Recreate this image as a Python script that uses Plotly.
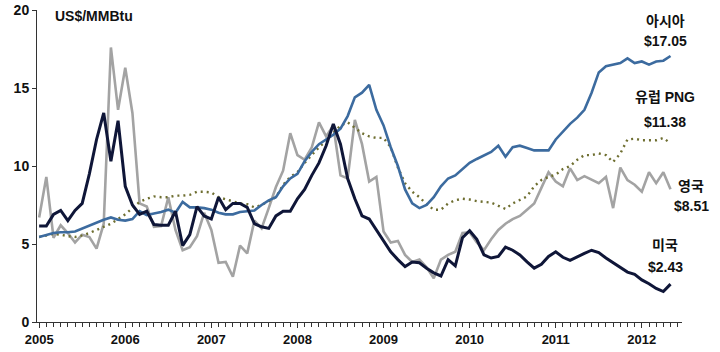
import plotly.graph_objects as go

years = ["2005", "2006", "2007", "2008", "2009", "2010", "2011", "2012"]
months = list(range(89))  # Jan 2005 .. May 2012, monthly

asia = [5.45, 5.6, 5.7, 5.75, 5.75, 5.8, 6.0, 6.2, 6.4, 6.55, 6.7, 6.55,
        6.5, 6.6, 7.1, 6.85, 6.95, 7.05, 7.2, 7.0, 7.7, 7.35, 7.35, 7.3,
        7.2, 7.0, 6.9, 6.9, 7.05, 7.1, 7.15, 7.5, 7.8, 8.0, 8.7, 9.2,
        9.5, 10.3, 10.9, 11.4, 11.7, 12.0, 12.4, 13.2, 14.4, 14.7, 15.2, 13.6,
        12.6, 11.2, 10.0, 8.5, 7.6, 7.3, 7.5, 8.0, 8.7, 9.2, 9.4, 9.8,
        10.2, 10.45, 10.7, 10.9, 11.3, 10.6, 11.2, 11.3, 11.15, 11.0, 11.0, 11.0,
        11.7, 12.2, 12.7, 13.1, 13.6, 14.7, 16.0, 16.4, 16.5, 16.6, 16.9, 16.6,
        16.7, 16.5, 16.7, 16.75, 17.05]

europe = [5.45, 5.55, 5.65, 5.6, 5.5, 5.45, 5.55, 5.7, 5.9, 6.1, 6.3, 6.6,
          6.9, 7.3, 7.7, 7.9, 8.05, 8.0, 8.0, 8.1, 8.1, 8.15, 8.35, 8.35,
          8.3, 8.0, 7.85, 7.7, 7.6, 7.55, 7.35, 7.5, 7.75, 8.0, 8.8, 9.3,
          9.6, 10.2, 10.7, 11.2, 11.6, 12.1, 12.6, 12.8, 12.45, 12.1, 11.9, 11.8,
          11.8, 11.2, 9.9, 8.9, 8.35, 8.0, 7.55, 7.2, 7.2, 7.6, 7.8, 7.9,
          7.85, 7.75, 7.7, 7.65, 7.45, 7.25, 7.6, 7.85, 8.05, 8.7, 9.1, 9.3,
          9.45, 9.8, 10.0, 10.4, 10.7, 10.7, 10.8, 10.7, 10.25, 10.8, 11.7, 11.75,
          11.65, 11.65, 11.65, 11.8, 11.45]

uk = [6.7, 9.3, 5.4, 6.2, 5.7, 5.1, 5.6, 5.45, 4.7, 6.3, 17.6, 13.6,
      16.3, 13.4, 7.6, 7.4, 6.1, 6.15, 8.0, 5.9, 4.6, 4.8, 5.5, 7.0,
      5.9, 3.8, 3.85, 2.9, 4.9, 4.4, 6.5, 6.0, 7.3, 8.65, 9.7, 12.1,
      10.7, 10.4, 11.2, 12.8, 11.9, 12.6, 9.4, 9.2, 12.95, 11.4, 9.0, 9.3,
      5.8, 5.1, 5.2, 4.3, 3.85, 4.0, 3.5, 2.8, 4.0, 4.3, 4.5, 5.7,
      5.75, 5.1, 4.6, 5.3, 5.9, 6.3, 6.6, 6.8, 7.2, 7.6, 8.6, 9.6,
      9.0, 8.7, 9.85, 9.1, 9.35, 9.1, 8.9, 9.3, 7.3, 9.9, 9.1, 8.8,
      8.35, 9.6, 8.9, 9.6, 8.51]

us = [6.15, 6.15, 6.9, 7.15, 6.5, 7.15, 7.6, 9.5, 11.7, 13.4, 10.3, 12.9,
      8.7, 7.5, 6.9, 7.1, 6.25, 6.2, 6.2, 7.1, 4.9, 5.6, 7.4, 6.8,
      6.6, 8.0, 7.2, 7.6, 7.6, 7.35, 6.3, 6.1, 6.0, 6.8, 7.1, 7.1,
      7.9, 8.5, 9.4, 10.2, 11.3, 12.7, 11.4, 9.2, 7.9, 6.8, 6.6, 5.9,
      5.25, 4.5, 4.0, 3.55, 3.85, 3.8, 3.45, 3.15, 2.95, 4.0, 3.6, 5.4,
      5.85, 5.3, 4.3, 4.1, 4.2, 4.8, 4.6, 4.3, 3.85, 3.45, 3.7, 4.2,
      4.5, 4.15, 3.95, 4.2, 4.4, 4.6, 4.45, 4.1, 3.8, 3.5, 3.2, 3.05,
      2.7, 2.45, 2.15, 1.95, 2.43]

labels = [("아시아", "$17.05", 665, 21, 41),
          ("유럽 PNG", "$11.38", 665, 97, 122),
          ("영국", "$8.51", 691, 186, 206),
          ("미국", "$2.43", 665, 245, 267)]

FONT = "Liberation Sans, Arial, Noto Sans CJK KR, sans-serif"

fig = go.Figure()
fig.add_trace(go.Scatter(x=months, y=uk, mode="lines",
                         line=dict(color="#a3a3a3", width=2.6), name="영국"))
fig.add_trace(go.Scatter(x=months, y=europe, mode="lines",
                         line=dict(color="#6e6e30", width=2.4, dash="2px,4px"), name="유럽 PNG"))
fig.add_trace(go.Scatter(x=months, y=asia, mode="lines",
                         line=dict(color="#3c6b9f", width=2.6), name="아시아"))
fig.add_trace(go.Scatter(x=months, y=us, mode="lines",
                         line=dict(color="#0f1638", width=3), name="미국"))

W, H = 720, 352
L, R, T, B = 37, 38, 10, 30

def px(xp):
    return (xp - L) / (W - L - R)

def py(yp):
    return 1 - (yp - T) / (H - T - B)

annotations = [dict(text="<b>US$/MMBtu</b>", x=px(53), y=py(16), xref="paper", yref="paper",
                    xanchor="left", yanchor="middle", showarrow=False,
                    font=dict(size=14, color="#111", family=FONT))]
for name, val, cx, y1, y2 in labels:
    annotations.append(dict(text="<b>%s</b>" % name, x=px(cx), y=py(y1), xref="paper", yref="paper",
                            xanchor="center", yanchor="middle", showarrow=False,
                            font=dict(size=14, color="#111", family=FONT)))
    annotations.append(dict(text="<b>%s</b>" % val, x=px(cx), y=py(y2), xref="paper", yref="paper",
                            xanchor="center", yanchor="middle", showarrow=False,
                            font=dict(size=14, color="#111", family=FONT)))

fig.update_layout(
    width=W, height=H,
    margin=dict(l=L, r=R, t=T, b=B, autoexpand=False),
    paper_bgcolor="white", plot_bgcolor="white",
    showlegend=False,
    annotations=annotations,
    font=dict(family=FONT, size=13, color="#111"),
    xaxis=dict(range=[-0.3, 89.6], tickmode="array", automargin=False,
               tickvals=[12 * i for i in range(len(years))],
               ticktext=["<b>%s</b>" % y for y in years],
               showgrid=False, zeroline=False, showline=True, linecolor="#333", linewidth=1,
               ticks="outside", ticklen=5, tickcolor="#333",
               minor=dict(dtick=1, tick0=0, ticks="outside", ticklen=4, tickcolor="#333"),
               tickfont=dict(size=13, family=FONT, color="#111")),
    yaxis=dict(range=[0, 20], tickvals=[0, 5, 10, 15, 20], automargin=False,
               ticktext=["<b>%d</b>" % v for v in [0, 5, 10, 15, 20]],
               showgrid=False, zeroline=False, showline=True, linecolor="#333", linewidth=1,
               ticks="outside", ticklen=4, tickcolor="#333",
               tickfont=dict(size=14, family=FONT, color="#111")),
)

fig.write_html("out.html")
